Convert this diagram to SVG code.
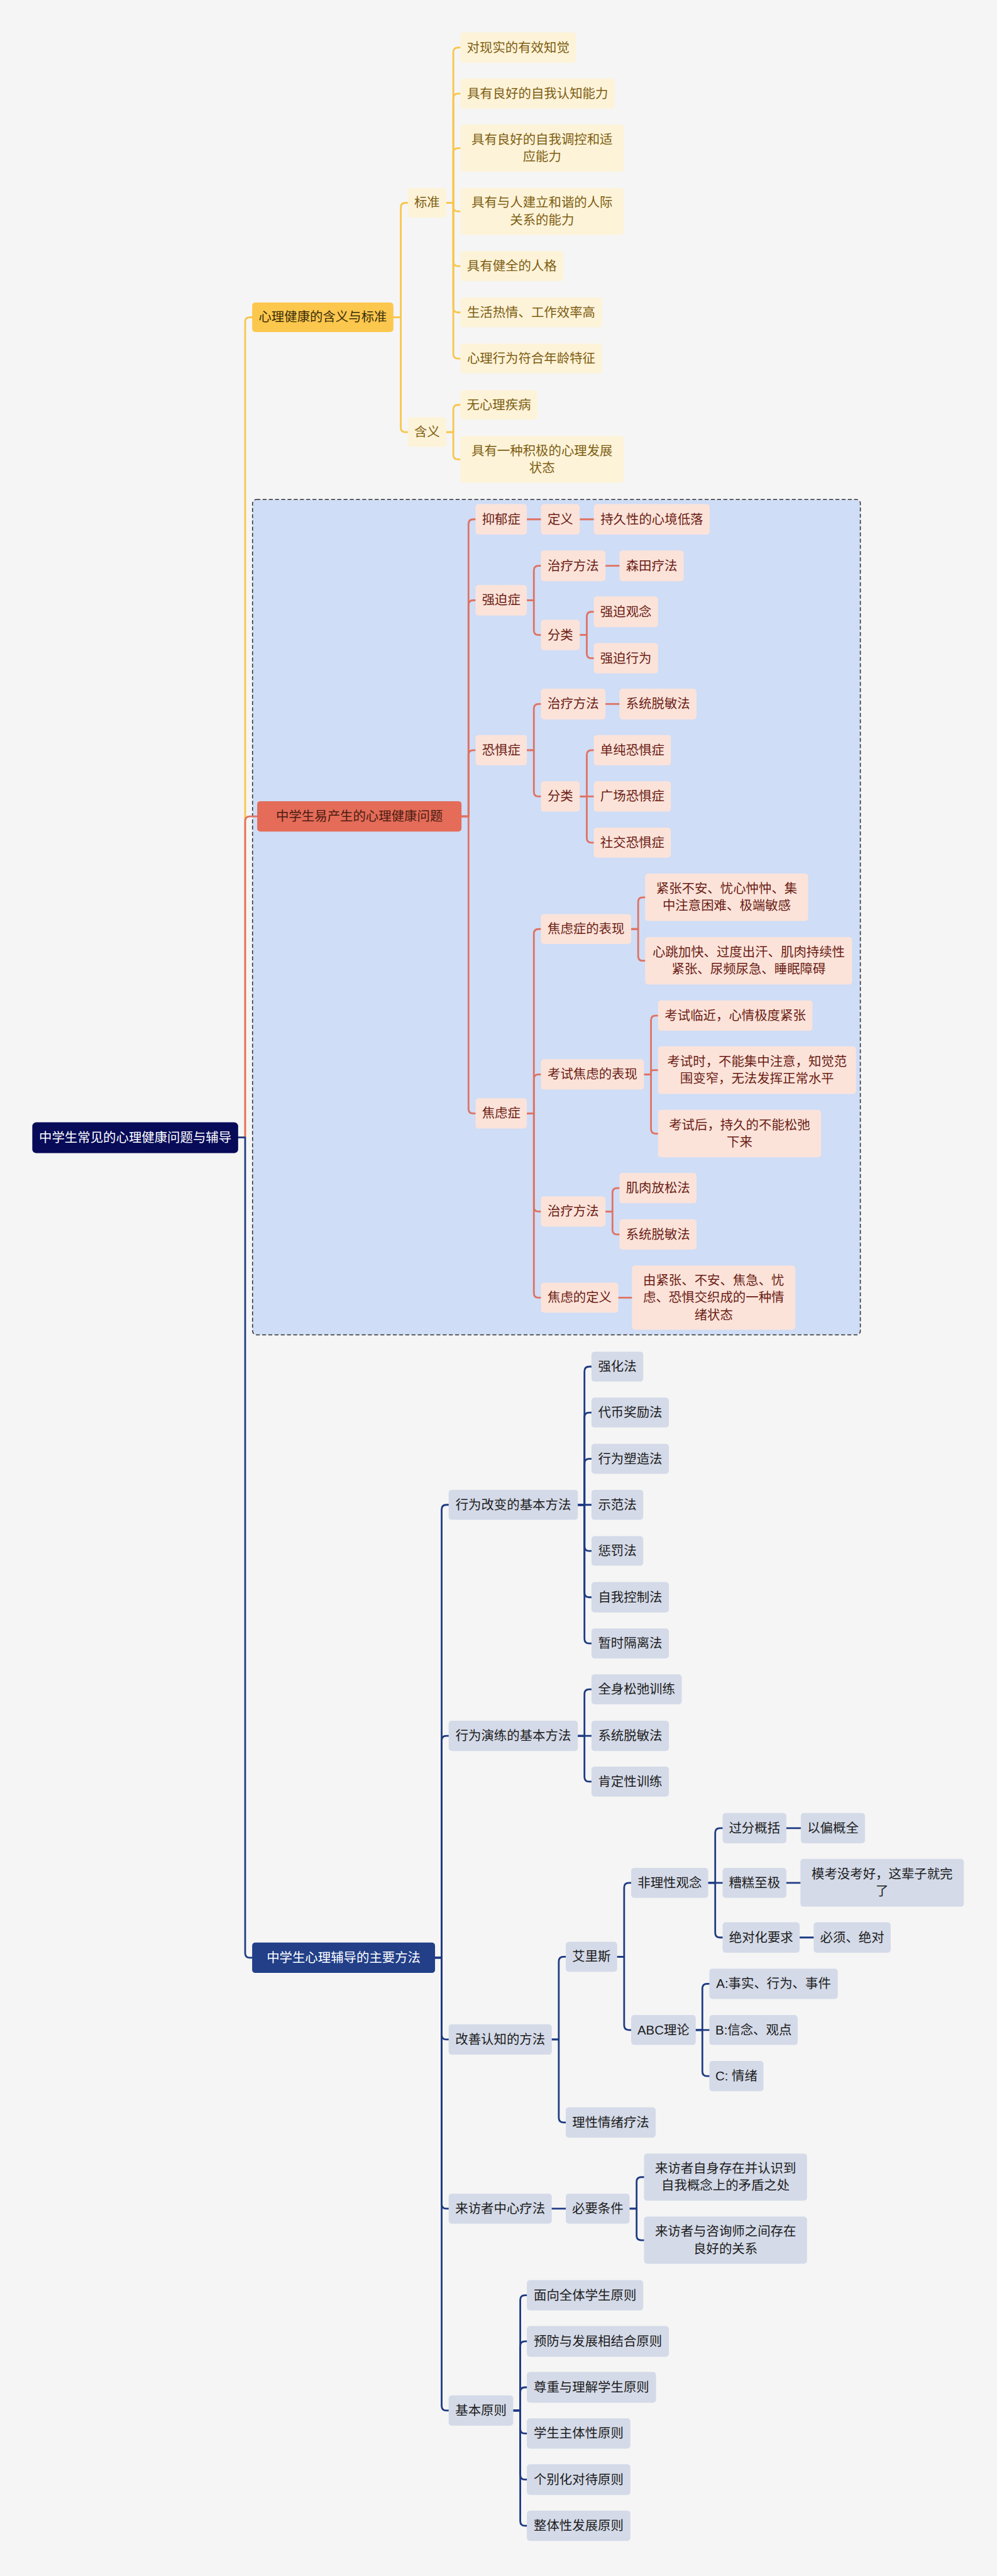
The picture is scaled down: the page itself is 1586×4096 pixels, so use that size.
<svg xmlns="http://www.w3.org/2000/svg" width="1586" height="4096" viewBox="0 0 1586 4096">
<style>
text{font-family:"Liberation Sans","Noto Sans CJK SC",sans-serif;font-size:33px;text-anchor:middle;dominant-baseline:central}
.root rect{fill:#070b58}.root text{fill:#ffffff}
.y1 rect{fill:#fcc74d}.y1 text{fill:#3a2e0c}
.y2 rect{fill:#fdf3d8}.y2 text{fill:#7d5e13}
.p1 rect{fill:#e46c58}.p1 text{fill:#4b1b12}
.p2 rect{fill:#fbe3da}.p2 text{fill:#6b1d14}
.n1 rect{fill:#223f88}.n1 text{fill:#ffffff}
.n2 rect{fill:#d4dae8}.n2 text{fill:#1c1c1c}
.cy path{stroke:#f8c64a}.cp path{stroke:#e07262}.cn path{stroke:#1e3b82}
#connectors path{fill:none;stroke-width:4.5;stroke-linecap:round;stroke-linejoin:round}
</style>
<rect x="0" y="0" width="1586" height="4096" fill="#f5f5f5"/>
<g transform="scale(0.619)">
<rect id="group-frame" x="649" y="1283" width="1562" height="2146" rx="10" fill="#cfddf6" stroke="#333333" stroke-width="2.5" stroke-dasharray="10 6"/>
<g id="connectors">
<g class="cy">
<path d="M612 2922 H630 V827 Q630 815 642 815 H648"/>
<path d="M1011 815 H1030 V533 Q1030 521 1042 521 H1048"/>
<path d="M1011 815 H1030 V1098 Q1030 1110 1042 1110 H1048"/>
<path d="M1147 521 H1165 V134 Q1165 122 1177 122 H1183"/>
<path d="M1147 521 H1165 V252.5 Q1165 240.5 1177 240.5 H1183"/>
<path d="M1147 521 H1165 V392.5 Q1165 380.5 1177 380.5 H1183"/>
<path d="M1147 521 H1165 V531 Q1165 543 1177 543 H1183"/>
<path d="M1147 521 H1165 V671.5 Q1165 683.5 1177 683.5 H1183"/>
<path d="M1147 521 H1165 V790.5 Q1165 802.5 1177 802.5 H1183"/>
<path d="M1147 521 H1165 V909 Q1165 921 1177 921 H1183"/>
<path d="M1147 1110 H1165 V1052 Q1165 1040 1177 1040 H1183"/>
<path d="M1147 1110 H1165 V1168 Q1165 1180 1177 1180 H1183"/>
</g>
<g class="cp">
<path d="M612 2922 H630 V2109 Q630 2097 642 2097 H661"/>
<path d="M1186 2097 H1204 V1346 Q1204 1334 1216 1334 H1222"/>
<path d="M1186 2097 H1204 V1554 Q1204 1542 1216 1542 H1222"/>
<path d="M1186 2097 H1204 V1939 Q1204 1927 1216 1927 H1222"/>
<path d="M1186 2097 H1204 V2848 Q1204 2860 1216 2860 H1222"/>
<path d="M1354 1334 H1390"/>
<path d="M1490 1334 H1526"/>
<path d="M1354 1542 H1372 V1465.5 Q1372 1453.5 1384 1453.5 H1390"/>
<path d="M1354 1542 H1372 V1619 Q1372 1631 1384 1631 H1390"/>
<path d="M1556 1453.5 H1592"/>
<path d="M1490 1631 H1508 V1583.5 Q1508 1571.5 1520 1571.5 H1526"/>
<path d="M1490 1631 H1508 V1679 Q1508 1691 1520 1691 H1526"/>
<path d="M1354 1927 H1372 V1820.5 Q1372 1808.5 1384 1808.5 H1390"/>
<path d="M1354 1927 H1372 V2034 Q1372 2046 1384 2046 H1390"/>
<path d="M1556 1808.5 H1592"/>
<path d="M1490 2046 H1508 V1939 Q1508 1927 1520 1927 H1526"/>
<path d="M1490 2046 H1526"/>
<path d="M1490 2046 H1508 V2152.5 Q1508 2164.5 1520 2164.5 H1526"/>
<path d="M1354 2860 H1372 V2398.5 Q1372 2386.5 1384 2386.5 H1390"/>
<path d="M1354 2860 H1372 V2772 Q1372 2760 1384 2760 H1390"/>
<path d="M1354 2860 H1372 V3100 Q1372 3112 1384 3112 H1390"/>
<path d="M1354 2860 H1372 V3321.5 Q1372 3333.5 1384 3333.5 H1390"/>
<path d="M1622 2386.5 H1640 V2317 Q1640 2305 1652 2305 H1658"/>
<path d="M1622 2386.5 H1640 V2456 Q1640 2468 1652 2468 H1658"/>
<path d="M1655 2760 H1673 V2621 Q1673 2609 1685 2609 H1691"/>
<path d="M1655 2760 H1673 V2754.5 Q1673 2749 1678.5 2749 H1691"/>
<path d="M1655 2760 H1673 V2900 Q1673 2912 1685 2912 H1691"/>
<path d="M1556 3112 H1574 V3064 Q1574 3052 1586 3052 H1592"/>
<path d="M1556 3112 H1574 V3159 Q1574 3171 1586 3171 H1592"/>
<path d="M1589 3333.5 H1624"/>
</g>
<g class="cn">
<path d="M612 2922 H630 V5017 Q630 5029 642 5029 H648"/>
<path d="M1118 5029 H1135 V3877.5 Q1135 3865.5 1147 3865.5 H1153"/>
<path d="M1118 5029 H1135 V4471 Q1135 4459 1147 4459 H1153"/>
<path d="M1118 5029 H1135 V5227 Q1135 5239 1147 5239 H1153"/>
<path d="M1118 5029 H1135 V5661.5 Q1135 5673.5 1147 5673.5 H1153"/>
<path d="M1118 5029 H1135 V6180 Q1135 6192 1147 6192 H1153"/>
<path d="M1485 3865.5 H1502 V3522.5 Q1502 3510.5 1514 3510.5 H1520"/>
<path d="M1485 3865.5 H1502 V3640.5 Q1502 3628.5 1514 3628.5 H1520"/>
<path d="M1485 3865.5 H1502 V3759.5 Q1502 3747.5 1514 3747.5 H1520"/>
<path d="M1485 3865.5 H1520"/>
<path d="M1485 3865.5 H1502 V3972 Q1502 3984 1514 3984 H1520"/>
<path d="M1485 3865.5 H1502 V4091 Q1502 4103 1514 4103 H1520"/>
<path d="M1485 3865.5 H1502 V4209.5 Q1502 4221.5 1514 4221.5 H1520"/>
<path d="M1485 4459 H1502 V4351.5 Q1502 4339.5 1514 4339.5 H1520"/>
<path d="M1485 4459 H1520"/>
<path d="M1485 4459 H1502 V4564.5 Q1502 4576.5 1514 4576.5 H1520"/>
<path d="M1418 5239 H1436 V5038.5 Q1436 5026.5 1448 5026.5 H1454"/>
<path d="M1418 5239 H1436 V5440 Q1436 5452 1448 5452 H1454"/>
<path d="M1586 5026.5 H1604 V4848.5 Q1604 4836.5 1616 4836.5 H1622"/>
<path d="M1586 5026.5 H1604 V5202.5 Q1604 5214.5 1616 5214.5 H1622"/>
<path d="M1820 4836.5 H1838 V4708 Q1838 4696 1850 4696 H1857"/>
<path d="M1820 4836.5 H1857"/>
<path d="M1820 4836.5 H1838 V4965 Q1838 4977 1850 4977 H1857"/>
<path d="M2021 4696 H2058"/>
<path d="M2021 4836.5 H2057"/>
<path d="M2055 4977 H2091"/>
<path d="M1788 5214.5 H1805 V5108 Q1805 5096 1817 5096 H1823"/>
<path d="M1788 5214.5 H1823"/>
<path d="M1788 5214.5 H1805 V5321 Q1805 5333 1817 5333 H1823"/>
<path d="M1418 5673.5 H1454"/>
<path d="M1618 5673.5 H1636 V5604.5 Q1636 5592.5 1648 5592.5 H1655"/>
<path d="M1618 5673.5 H1636 V5742.5 Q1636 5754.5 1648 5754.5 H1655"/>
<path d="M1319 6192 H1337 V5908 Q1337 5896 1349 5896 H1354"/>
<path d="M1319 6192 H1337 V6026.5 Q1337 6014.5 1349 6014.5 H1354"/>
<path d="M1319 6192 H1337 V6144.5 Q1337 6132.5 1349 6132.5 H1354"/>
<path d="M1319 6192 H1337 V6239 Q1337 6251 1349 6251 H1354"/>
<path d="M1319 6192 H1337 V6357.5 Q1337 6369.5 1349 6369.5 H1354"/>
<path d="M1319 6192 H1337 V6476 Q1337 6488 1349 6488 H1354"/>
</g>
</g>

<g id="root" class="root"><rect x="83" y="2883" width="529" height="79" rx="10"/><text x="347.5" y="2922.5">中学生常见的心理健康问题与辅导</text></g>

<g id="n-health" class="y1"><rect x="648" y="777" width="363" height="76" rx="8"/><text x="829.5" y="815">心理健康的含义与标准</text></g>
<g id="n-standard" class="y2"><rect x="1048" y="483" width="99" height="76" rx="8"/><text x="1097.5" y="521">标准</text></g>
<g id="n-meaning" class="y2"><rect x="1048" y="1072" width="99" height="76" rx="8"/><text x="1097.5" y="1110">含义</text></g>
<g id="n-s1" class="y2"><rect x="1183" y="83" width="297" height="78" rx="8"/><text x="1331.5" y="122">对现实的有效知觉</text></g>
<g id="n-s2" class="y2"><rect x="1183" y="202" width="397" height="77" rx="8"/><text x="1381.5" y="240.5">具有良好的自我认知能力</text></g>
<g id="n-s3" class="y2"><rect x="1183" y="320" width="420" height="121" rx="8"/><text x="1393" y="358.5">具有良好的自我调控和适</text><text x="1393" y="402.5">应能力</text></g>
<g id="n-s4" class="y2"><rect x="1183" y="483" width="420" height="120" rx="8"/><text x="1393" y="521">具有与人建立和谐的人际</text><text x="1393" y="565">关系的能力</text></g>
<g id="n-s5" class="y2"><rect x="1183" y="645" width="265" height="77" rx="8"/><text x="1315.5" y="683.5">具有健全的人格</text></g>
<g id="n-s6" class="y2"><rect x="1183" y="764" width="364" height="77" rx="8"/><text x="1365" y="802.5">生活热情、工作效率高</text></g>
<g id="n-s7" class="y2"><rect x="1183" y="883" width="364" height="76" rx="8"/><text x="1365" y="921">心理行为符合年龄特征</text></g>
<g id="n-m1" class="y2"><rect x="1183" y="1002" width="198" height="76" rx="8"/><text x="1282" y="1040">无心理疾病</text></g>
<g id="n-m2" class="y2"><rect x="1183" y="1120" width="420" height="120" rx="8"/><text x="1393" y="1158">具有一种积极的心理发展</text><text x="1393" y="1202">状态</text></g>

<g id="n-problems" class="p1"><rect x="661" y="2058" width="525" height="78" rx="8"/><text x="923.5" y="2097">中学生易产生的心理健康问题</text></g>
<g id="n-depression" class="p2"><rect x="1222" y="1295" width="132" height="78" rx="8"/><text x="1288" y="1334">抑郁症</text></g>
<g id="n-dep-def" class="p2"><rect x="1390" y="1295" width="100" height="78" rx="8"/><text x="1440" y="1334">定义</text></g>
<g id="n-dep-def1" class="p2"><rect x="1526" y="1295" width="298" height="78" rx="8"/><text x="1675" y="1334">持久性的心境低落</text></g>
<g id="n-ocd" class="p2"><rect x="1222" y="1503" width="132" height="78" rx="8"/><text x="1288" y="1542">强迫症</text></g>
<g id="n-ocd-treat" class="p2"><rect x="1390" y="1414" width="166" height="79" rx="8"/><text x="1473" y="1453.5">治疗方法</text></g>
<g id="n-ocd-morita" class="p2"><rect x="1592" y="1414" width="165" height="79" rx="8"/><text x="1674.5" y="1453.5">森田疗法</text></g>
<g id="n-ocd-class" class="p2"><rect x="1390" y="1592" width="100" height="78" rx="8"/><text x="1440" y="1631">分类</text></g>
<g id="n-ocd-c1" class="p2"><rect x="1526" y="1532" width="165" height="79" rx="8"/><text x="1608.5" y="1571.5">强迫观念</text></g>
<g id="n-ocd-c2" class="p2"><rect x="1526" y="1652" width="165" height="78" rx="8"/><text x="1608.5" y="1691">强迫行为</text></g>
<g id="n-phobia" class="p2"><rect x="1222" y="1888" width="132" height="78" rx="8"/><text x="1288" y="1927">恐惧症</text></g>
<g id="n-pho-treat" class="p2"><rect x="1390" y="1769" width="166" height="79" rx="8"/><text x="1473" y="1808.5">治疗方法</text></g>
<g id="n-pho-sd" class="p2"><rect x="1592" y="1769" width="198" height="79" rx="8"/><text x="1691" y="1808.5">系统脱敏法</text></g>
<g id="n-pho-class" class="p2"><rect x="1390" y="2007" width="100" height="78" rx="8"/><text x="1440" y="2046">分类</text></g>
<g id="n-pho-c1" class="p2"><rect x="1526" y="1888" width="198" height="78" rx="8"/><text x="1625" y="1927">单纯恐惧症</text></g>
<g id="n-pho-c2" class="p2"><rect x="1526" y="2007" width="198" height="78" rx="8"/><text x="1625" y="2046">广场恐惧症</text></g>
<g id="n-pho-c3" class="p2"><rect x="1526" y="2126" width="198" height="77" rx="8"/><text x="1625" y="2164.5">社交恐惧症</text></g>
<g id="n-anxiety" class="p2"><rect x="1222" y="2821" width="132" height="78" rx="8"/><text x="1288" y="2860">焦虑症</text></g>
<g id="n-anx-sym" class="p2"><rect x="1390" y="2348" width="232" height="77" rx="8"/><text x="1506" y="2386.5">焦虑症的表现</text></g>
<g id="n-anx-sym1" class="p2"><rect x="1658" y="2244" width="419" height="122" rx="8"/><text x="1867.5" y="2283">紧张不安、忧心忡忡、集</text><text x="1867.5" y="2327">中注意困难、极端敏感</text></g>
<g id="n-anx-sym2" class="p2"><rect x="1658" y="2407" width="532" height="122" rx="8"/><text x="1924" y="2446">心跳加快、过度出汗、肌肉持续性</text><text x="1924" y="2490">紧张、尿频尿急、睡眠障碍</text></g>
<g id="n-exam" class="p2"><rect x="1390" y="2721" width="265" height="78" rx="8"/><text x="1522.5" y="2760">考试焦虑的表现</text></g>
<g id="n-exam1" class="p2"><rect x="1691" y="2570" width="397" height="78" rx="8"/><text x="1889.5" y="2609">考试临近，心情极度紧张</text></g>
<g id="n-exam2" class="p2"><rect x="1691" y="2688" width="509" height="122" rx="8"/><text x="1945.5" y="2727">考试时，不能集中注意，知觉范</text><text x="1945.5" y="2771">围变窄，无法发挥正常水平</text></g>
<g id="n-exam3" class="p2"><rect x="1691" y="2851" width="419" height="122" rx="8"/><text x="1900.5" y="2890">考试后，持久的不能松弛</text><text x="1900.5" y="2934">下来</text></g>
<g id="n-anx-treat" class="p2"><rect x="1390" y="3073" width="166" height="78" rx="8"/><text x="1473" y="3112">治疗方法</text></g>
<g id="n-anx-t1" class="p2"><rect x="1592" y="3013" width="198" height="78" rx="8"/><text x="1691" y="3052">肌肉放松法</text></g>
<g id="n-anx-t2" class="p2"><rect x="1592" y="3132" width="198" height="78" rx="8"/><text x="1691" y="3171">系统脱敏法</text></g>
<g id="n-anx-def" class="p2"><rect x="1390" y="3295" width="199" height="77" rx="8"/><text x="1489.5" y="3333.5">焦虑的定义</text></g>
<g id="n-anx-def1" class="p2"><rect x="1624" y="3251" width="420" height="165" rx="8"/><text x="1834" y="3289.5">由紧张、不安、焦急、忧</text><text x="1834" y="3333.5">虑、恐惧交织成的一种情</text><text x="1834" y="3377.5">绪状态</text></g>

<g id="n-methods" class="n1"><rect x="648" y="4990" width="470" height="78" rx="8"/><text x="883" y="5029">中学生心理辅导的主要方法</text></g>
<g id="n-bchange" class="n2"><rect x="1153" y="3827" width="332" height="77" rx="8"/><text x="1319" y="3865.5">行为改变的基本方法</text></g>
<g id="n-bc1" class="n2"><rect x="1520" y="3472" width="133" height="77" rx="8"/><text x="1586.5" y="3510.5">强化法</text></g>
<g id="n-bc2" class="n2"><rect x="1520" y="3590" width="199" height="77" rx="8"/><text x="1619.5" y="3628.5">代币奖励法</text></g>
<g id="n-bc3" class="n2"><rect x="1520" y="3709" width="199" height="77" rx="8"/><text x="1619.5" y="3747.5">行为塑造法</text></g>
<g id="n-bc4" class="n2"><rect x="1520" y="3827" width="133" height="77" rx="8"/><text x="1586.5" y="3865.5">示范法</text></g>
<g id="n-bc5" class="n2"><rect x="1520" y="3946" width="133" height="76" rx="8"/><text x="1586.5" y="3984">惩罚法</text></g>
<g id="n-bc6" class="n2"><rect x="1520" y="4064" width="199" height="78" rx="8"/><text x="1619.5" y="4103">自我控制法</text></g>
<g id="n-bc7" class="n2"><rect x="1520" y="4183" width="199" height="77" rx="8"/><text x="1619.5" y="4221.5">暂时隔离法</text></g>
<g id="n-brehearse" class="n2"><rect x="1153" y="4420" width="332" height="78" rx="8"/><text x="1319" y="4459">行为演练的基本方法</text></g>
<g id="n-br1" class="n2"><rect x="1520" y="4301" width="232" height="77" rx="8"/><text x="1636" y="4339.5">全身松弛训练</text></g>
<g id="n-br2" class="n2"><rect x="1520" y="4420" width="199" height="78" rx="8"/><text x="1619.5" y="4459">系统脱敏法</text></g>
<g id="n-br3" class="n2"><rect x="1520" y="4538" width="199" height="77" rx="8"/><text x="1619.5" y="4576.5">肯定性训练</text></g>
<g id="n-cog" class="n2"><rect x="1153" y="5200" width="265" height="78" rx="8"/><text x="1285.5" y="5239">改善认知的方法</text></g>
<g id="n-ellis" class="n2"><rect x="1454" y="4988" width="132" height="77" rx="8"/><text x="1520" y="5026.5">艾里斯</text></g>
<g id="n-irr" class="n2"><rect x="1622" y="4798" width="198" height="77" rx="8"/><text x="1721" y="4836.5">非理性观念</text></g>
<g id="n-irr1" class="n2"><rect x="1857" y="4657" width="164" height="78" rx="8"/><text x="1939" y="4696">过分概括</text></g>
<g id="n-irr1a" class="n2"><rect x="2058" y="4657" width="165" height="78" rx="8"/><text x="2140.5" y="4696">以偏概全</text></g>
<g id="n-irr2" class="n2"><rect x="1857" y="4798" width="164" height="77" rx="8"/><text x="1939" y="4836.5">糟糕至极</text></g>
<g id="n-irr2a" class="n2"><rect x="2057" y="4775" width="420" height="123" rx="8"/><text x="2267" y="4814.5">模考没考好，这辈子就完</text><text x="2267" y="4858.5">了</text></g>
<g id="n-irr3" class="n2"><rect x="1857" y="4938" width="198" height="78" rx="8"/><text x="1956" y="4977">绝对化要求</text></g>
<g id="n-irr3a" class="n2"><rect x="2091" y="4938" width="198" height="78" rx="8"/><text x="2190" y="4977">必须、绝对</text></g>
<g id="n-abc" class="n2"><rect x="1622" y="5176" width="166" height="77" rx="8"/><text x="1705" y="5214.5">ABC理论</text></g>
<g id="n-abc-a" class="n2"><rect x="1823" y="5057" width="330" height="78" rx="8"/><text x="1988" y="5096">A:事实、行为、事件</text></g>
<g id="n-abc-b" class="n2"><rect x="1823" y="5176" width="227" height="77" rx="8"/><text x="1936.5" y="5214.5">B:信念、观点</text></g>
<g id="n-abc-c" class="n2"><rect x="1823" y="5294" width="139" height="78" rx="8"/><text x="1892.5" y="5333">C: 情绪</text></g>
<g id="n-ret" class="n2"><rect x="1454" y="5413" width="231" height="78" rx="8"/><text x="1569.5" y="5452">理性情绪疗法</text></g>
<g id="n-client" class="n2"><rect x="1153" y="5635" width="265" height="77" rx="8"/><text x="1285.5" y="5673.5">来访者中心疗法</text></g>
<g id="n-cond" class="n2"><rect x="1454" y="5635" width="164" height="77" rx="8"/><text x="1536" y="5673.5">必要条件</text></g>
<g id="n-cond1" class="n2"><rect x="1655" y="5532" width="419" height="121" rx="8"/><text x="1864.5" y="5570.5">来访者自身存在并认识到</text><text x="1864.5" y="5614.5">自我概念上的矛盾之处</text></g>
<g id="n-cond2" class="n2"><rect x="1655" y="5694" width="419" height="121" rx="8"/><text x="1864.5" y="5732.5">来访者与咨询师之间存在</text><text x="1864.5" y="5776.5">良好的关系</text></g>
<g id="n-principles" class="n2"><rect x="1153" y="6153" width="166" height="78" rx="8"/><text x="1236" y="6192">基本原则</text></g>
<g id="n-pr1" class="n2"><rect x="1354" y="5857" width="299" height="78" rx="8"/><text x="1503.5" y="5896">面向全体学生原则</text></g>
<g id="n-pr2" class="n2"><rect x="1354" y="5975" width="365" height="79" rx="8"/><text x="1536.5" y="6014.5">预防与发展相结合原则</text></g>
<g id="n-pr3" class="n2"><rect x="1354" y="6093" width="332" height="79" rx="8"/><text x="1520" y="6132.5">尊重与理解学生原则</text></g>
<g id="n-pr4" class="n2"><rect x="1354" y="6212" width="266" height="78" rx="8"/><text x="1487" y="6251">学生主体性原则</text></g>
<g id="n-pr5" class="n2"><rect x="1354" y="6330" width="266" height="79" rx="8"/><text x="1487" y="6369.5">个别化对待原则</text></g>
<g id="n-pr6" class="n2"><rect x="1354" y="6449" width="266" height="78" rx="8"/><text x="1487" y="6488">整体性发展原则</text></g>
</g>
</svg>
